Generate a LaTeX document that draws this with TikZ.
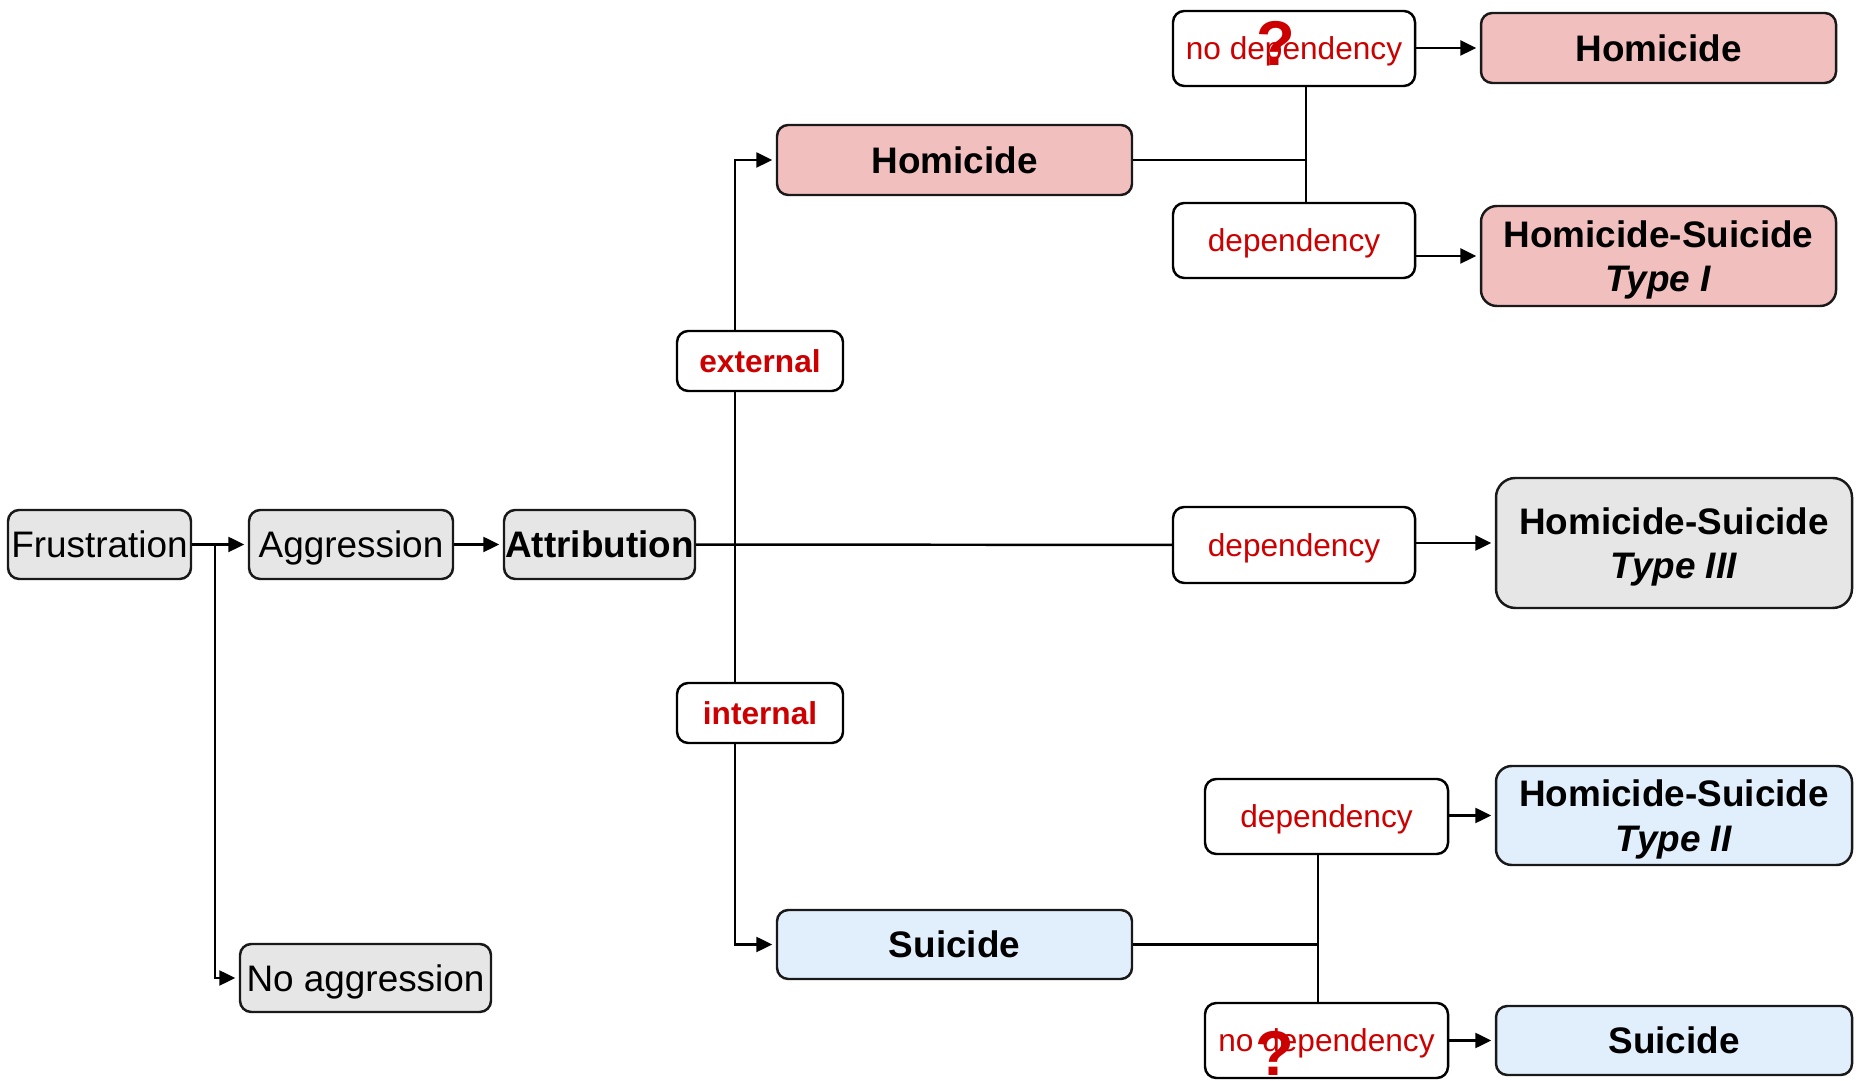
\documentclass[tikz,border=0pt]{standalone}
\usepackage{fontspec}
\setmainfont{Liberation Sans}
\usetikzlibrary{arrows.meta}
\definecolor{pk}{HTML}{F2BFBF}
\definecolor{bl}{HTML}{E1EFFC}
\definecolor{gy}{HTML}{E6E6E6}
\definecolor{rd}{HTML}{CC0000}

\begin{document}
\begin{tikzpicture}[
      > = {Triangle[length=1.6mm, width=1.5mm]}, % arrow head style
      arr/.style = {->, shorten > = 1pt}, % don't touch arrow head to node
      line width = 0.7pt, % line style
    ]

    \tikzstyle{box}=[
      draw = black!90,
      rounded corners = 3.2pt,
      inner sep = 0pt,
      text depth = 0pt,
      align = center,
      font = \fontsize{10.5}{12.6}\selectfont
    ]
    \tikzstyle{bbox}=[box, font = \fontsize{10.5}{12.6}\selectfont\bfseries]
    \tikzstyle{tag}=[
      draw = black,
      fill = white,
      rounded corners = 3.2pt,
      inner sep = 0pt,
      text depth = 0pt,
      text = rd,
      font = \fontsize{9}{11}\selectfont
    ]
    \tikzstyle{qm}=[text = rd, inner sep = 0pt, font = \fontsize{18}{20}\selectfont\bfseries]

    \useasboundingbox (0, 0) rectangle (18.65, -10.81);

    \node[box, fill = gy, minimum width = 1.83cm, minimum height = 0.69cm] (fr) [at={(0.995, -5.445)}] {Frustration};
    \node[box, fill = gy, minimum width = 2.04cm, minimum height = 0.69cm] (ag) [at={(3.51, -5.445)}] {Aggression};
    \node[bbox, fill = gy, minimum width = 1.91cm, minimum height = 0.69cm] (at) [at={(5.995, -5.445)}] {Attribution};
    \node[box, fill = gy, minimum width = 2.51cm, minimum height = 0.68cm] (na) [at={(3.655, -9.78)}] {No aggression};

    \node[bbox, fill = pk, minimum width = 3.55cm, minimum height = 0.70cm] (hom) [at={(9.545, -1.60)}] {Homicide};
    \node[bbox, fill = bl, minimum width = 3.55cm, minimum height = 0.69cm] (sui) [at={(9.545, -9.445)}] {Suicide};

    \node[tag, font = \fontsize{9}{11}\selectfont\bfseries, minimum width = 1.66cm, minimum height = 0.60cm] (ext) [at={(7.60, -3.61)}] {external};
    \node[tag, font = \fontsize{9}{11}\selectfont\bfseries, minimum width = 1.66cm, minimum height = 0.60cm] (int) [at={(7.60, -7.13)}] {internal};

    \node[tag, minimum width = 2.42cm, minimum height = 0.75cm] (nd1) [at={(12.94, -0.485)}] {no dependency};
    \node[tag, minimum width = 2.42cm, minimum height = 0.75cm] (d1) [at={(12.94, -2.405)}] {dependency};
    \node[tag, minimum width = 2.42cm, minimum height = 0.76cm] (d3) [at={(12.94, -5.45)}] {dependency};
    \node[tag, minimum width = 2.43cm, minimum height = 0.75cm] (d2) [at={(13.265, -8.165)}] {dependency};
    \node[tag, minimum width = 2.43cm, minimum height = 0.75cm] (nd2) [at={(13.265, -10.405)}] {no dependency};

    \node[bbox, fill = pk, minimum width = 3.55cm, minimum height = 0.70cm] (h) [at={(16.585, -0.48)}] {Homicide};
    \node[bbox, fill = pk, rounded corners = 4.5pt, minimum width = 3.55cm, minimum height = 1.00cm] (hs1) [at={(16.585, -2.56)}] {Homicide-Suicide\\\textit{Type I}};
    \node[bbox, fill = gy, rounded corners = 5.5pt, minimum width = 3.56cm, minimum height = 1.30cm] (hs3) [at={(16.74, -5.43)}] {Homicide-Suicide\\\textit{Type III}};
    \node[bbox, fill = bl, rounded corners = 4.5pt, minimum width = 3.56cm, minimum height = 0.99cm] (hs2) [at={(16.74, -8.155)}] {Homicide-Suicide\\\textit{Type II}};
    \node[bbox, fill = bl, minimum width = 3.56cm, minimum height = 0.69cm] (s) [at={(16.74, -10.405)}] {Suicide};

    \coordinate (fj) at (2.15, -5.445);
    \coordinate (sp) at (7.35, -5.445);
    \coordinate (j1) at (13.06, -1.60);
    \coordinate (j2) at (13.18, -9.445);

    \path[arr] (fr) edge (ag);
    \path[arr] (ag) edge (at);
    \draw[arr] (fj) |- (na);

    \draw (at) -- (d3);
    \draw[arr] (ext.north -| sp) |- (hom);
    \draw (ext.south -| sp) -- (int.north -| sp);
    \draw[arr] (int.south -| sp) |- (sui);

    \draw (hom) -- (j1);
    \draw (nd1.south -| j1) -- (d1.north -| j1);
    \draw (sui) -- (j2);
    \draw (d2.south -| j2) -- (nd2.north -| j2);

    \draw[arr] (nd1.east |- h.west) -- (h.west);
    \draw[arr] (d1.east |- hs1.west) -- (hs1.west);
    \draw[arr] (d3.east |- hs3.west) -- (hs3.west);
    \draw[arr] (d2.east |- hs2.west) -- (hs2.west);
    \draw[arr] (nd2.east |- s.west) -- (s.west);

    \node[qm] (q1) [at={(12.76, -0.43)}] {?};
    \node[qm] (q2) [at={(12.75, -10.53)}] {?};

  \end{tikzpicture}
\end{document}
